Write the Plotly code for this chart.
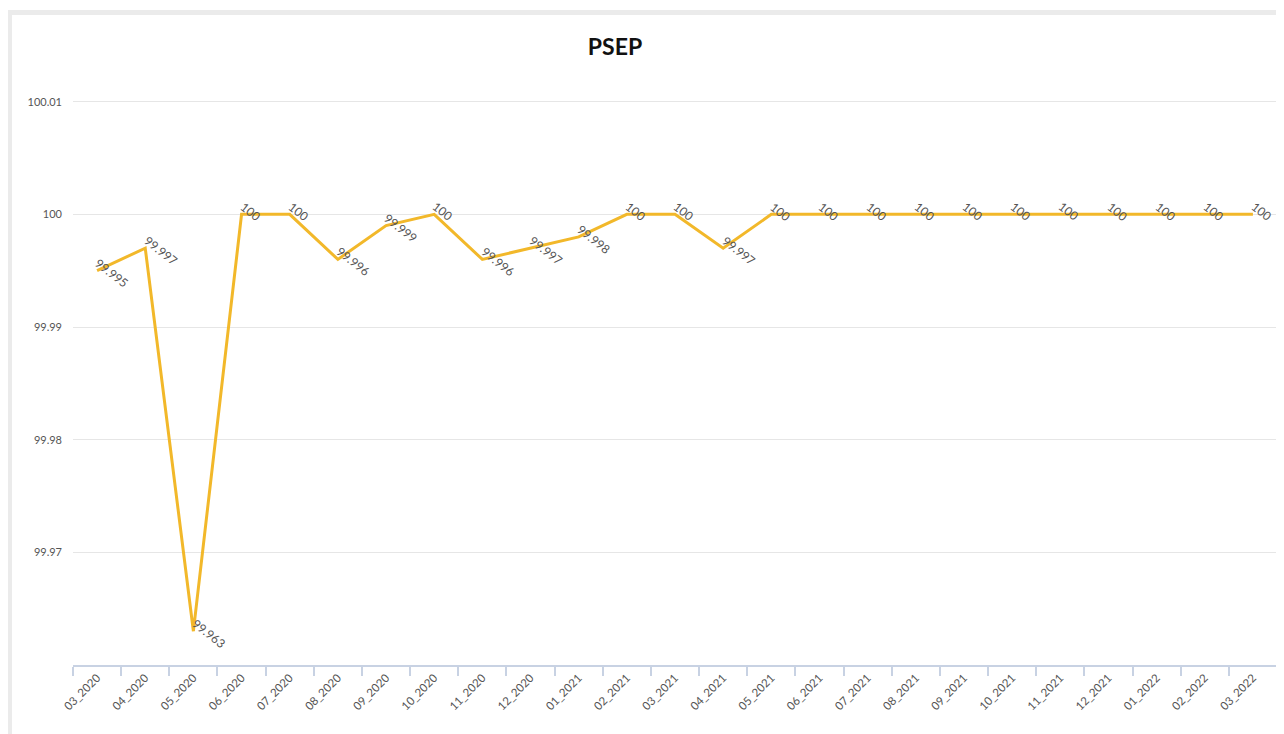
import plotly.graph_objects as go

months = ["03_2020", "04_2020", "05_2020", "06_2020", "07_2020", "08_2020", "09_2020",
          "10_2020", "11_2020", "12_2020", "01_2021", "02_2021", "03_2021", "04_2021",
          "05_2021", "06_2021", "07_2021", "08_2021", "09_2021", "10_2021", "11_2021",
          "12_2021", "01_2022", "02_2022", "03_2022"]
psep = [99.995, 99.997, 99.963, 100, 100, 99.996, 99.999, 100, 99.996, 99.997, 99.998,
        100, 100, 99.997, 100, 100, 100, 100, 100, 100, 100, 100, 100, 100, 100]
labels = ["99.995", "99.997", "99.963", "100", "100", "99.996", "99.999", "100", "99.996",
          "99.997", "99.998", "100", "100", "99.997", "100", "100", "100", "100", "100",
          "100", "100", "100", "100", "100", "100"]
y_ticks = [99.97, 99.98, 99.99, 100, 100.01]
y_tick_text = ["99.97", "99.98", "99.99", "100", "100.01"]

FONT = "Lato, 'Open Sans', sans-serif"

# page body adds an 8px offset; figure coordinates below are page coords minus 8
L, R, T, B = 65, 15, 70, 77
PW = 1284 - L - R
PH = 734 - T - B


def px_x(x):
    return (x - L) / PW


def px_y(y):
    return (734 - B - y) / PH


fig = go.Figure()
fig.add_trace(go.Scatter(
    x=months, y=psep, mode="lines",
    line=dict(color="#f2b82a", width=3),
    hoverinfo="x+y", showlegend=False,
))

annotations = []
for m, v, t in zip(months, psep, labels):
    annotations.append(dict(
        x=m, y=v, xref="x", yref="y", text=t, showarrow=False,
        textangle=38, xanchor="left", yanchor="top",
        xshift=-7, yshift=18,
        font=dict(family=FONT, size=12, color="#555555"),
    ))

fig.update_layout(
    width=1284, height=734,
    margin=dict(l=L, r=R, t=T, b=B),
    paper_bgcolor="white", plot_bgcolor="white",
    title=dict(text="<b>PSEP</b>", x=607 / 1284, xref="container", xanchor="center",
               y=1 - 39 / 734, yref="container", yanchor="middle",
               font=dict(family=FONT, size=23, color="#111111")),
    font=dict(family=FONT, size=11, color="#555555"),
    annotations=annotations,
    shapes=[
        dict(type="rect", xref="paper", yref="paper",
             x0=px_x(-1), x1=px_x(4), y0=px_y(740), y1=px_y(2),
             fillcolor="#ebebeb", line=dict(width=0), layer="below"),
        dict(type="rect", xref="paper", yref="paper",
             x0=px_x(-1), x1=px_x(1290), y0=px_y(7), y1=px_y(2),
             fillcolor="#ebebeb", line=dict(width=0), layer="below"),
    ],
    xaxis=dict(
        type="category", tickangle=-45, tickson="boundaries",
        ticks="outside", ticklen=9, tickcolor="#c8d2e3", tickwidth=1.5,
        showline=True, linecolor="#c8d2e3", linewidth=1.5,
        showgrid=False, zeroline=False,
        tickfont=dict(family=FONT, size=11.5, color="#555555"),
        range=[-0.5, len(months) - 0.5],
    ),
    yaxis=dict(
        range=[99.96, 100.0121], tickvals=y_ticks, ticktext=y_tick_text,
        showgrid=True, gridcolor="#e6e6e6", gridwidth=1,
        zeroline=False, showline=False, ticks="",
        ticklabelstandoff=10,
        tickfont=dict(family=FONT, size=11, color="#555555"),
    ),
)

fig.write_html("out.html")
